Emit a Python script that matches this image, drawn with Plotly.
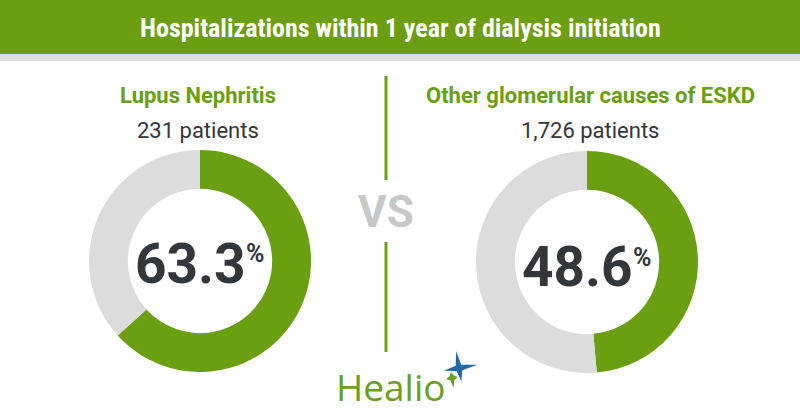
import plotly.graph_objects as go

W, H = 800, 420

# ---- data ----
groups = ["Lupus Nephritis", "Other glomerular causes of ESKD"]
patients = ["231 patients", "1,726 patients"]
hospitalized_pct = [63.3, 48.6]
title = "Hospitalizations within 1 year of dialysis initiation"

GREEN = "#6a9f12"
GRAY = "#dcdcdc"
DARK = "#33373b"

def px(x):
    return x / W

def py(y):
    return 1 - y / H

centers = [(200, 261), (587, 262)]
R = 111

fig = go.Figure()
for (cx, cy), val in zip(centers, hospitalized_pct):
    fig.add_trace(go.Pie(
        values=[val, 100 - val],
        labels=["Hospitalized", "Not hospitalized"],
        marker=dict(colors=[GREEN, GRAY], line=dict(width=0)),
        hole=0.65, sort=False, direction="clockwise", rotation=0,
        textinfo="none", hoverinfo="label+value", showlegend=False,
        domain=dict(x=[px(cx - R), px(cx + R)], y=[py(cy + R), py(cy - R)]),
    ))

shapes = [
    dict(type="rect", xref="paper", yref="paper", x0=0, x1=1, y0=py(54), y1=1,
         fillcolor="#6b9e10", line=dict(width=0), layer="below"),
    dict(type="rect", xref="paper", yref="paper", x0=0, x1=1, y0=py(61), y1=py(54),
         fillcolor="#dddddd", line=dict(width=0), layer="below"),
    dict(type="line", xref="paper", yref="paper", x0=px(386), x1=px(386), y0=py(76), y1=py(180),
         line=dict(color=GREEN, width=3)),
    dict(type="line", xref="paper", yref="paper", x0=px(386), x1=px(386), y0=py(242), y1=py(352),
         line=dict(color=GREEN, width=3)),
]

# Healio star (decoration)
def star(cx, cy, rl, rs, color, pts_scale=(1, 1, 1, 1)):
    import math
    pts = []
    for i in range(8):
        ang = math.radians(90 - i * 45 + 10)
        r = rl * pts_scale[i // 2] if i % 2 == 0 else rs
        pts.append((cx + r * math.cos(ang), cy - r * math.sin(ang)))
    path = "M " + " L ".join(f"{px(x):.5f},{py(y):.5f}" for x, y in pts) + " Z"
    return dict(type="path", xref="paper", yref="paper", path=path,
                fillcolor=color, line=dict(width=0))

shapes.append(star(459, 368, 17, 4, "#1f6aa8", (1.0, 1.1, 0.8, 0.9)))
shapes.append(star(452, 378, 10, 3, "#6aa021", (0.6, 0.6, 1.0, 0.6)))

ann = []
def text(x, y, s, size, color, family="Roboto", bold=False, xanchor="center"):
    if bold:
        s = f"<b>{s}</b>"
    ann.append(dict(x=px(x), y=py(y), xref="paper", yref="paper", text=s, showarrow=False,
                    xanchor=xanchor, yanchor="middle",
                    font=dict(size=size, color=color, family=family)))

text(400, 28, title, 26, "white", family="Roboto Condensed, Roboto", bold=True)
label_x = [198, 590]
for lx, g, p in zip(label_x, groups, patients):
    text(lx, 96, g, 22, GREEN, bold=True)
    text(lx, 130, p, 22, DARK)

num_pos = [(190, 264, 244, 254), (577, 267, 631, 257)]
for (nx, ny, sx, sy), val in zip(num_pos, hospitalized_pct):
    text(nx, ny, f"{val:.1f}", 55, DARK, bold=True)
    text(sx, sy, "%", 25, DARK, bold=True, xanchor="left")

text(386, 212, "VS", 44, "#c8c8c8", bold=True)
text(391, 386, "Healio", 37, "#6aa021", family="Open Sans")

fig.update_layout(
    width=W, height=H, margin=dict(l=0, r=0, t=0, b=0),
    paper_bgcolor="white", plot_bgcolor="white",
    shapes=shapes, annotations=ann,
)
fig.write_html("out.html")
